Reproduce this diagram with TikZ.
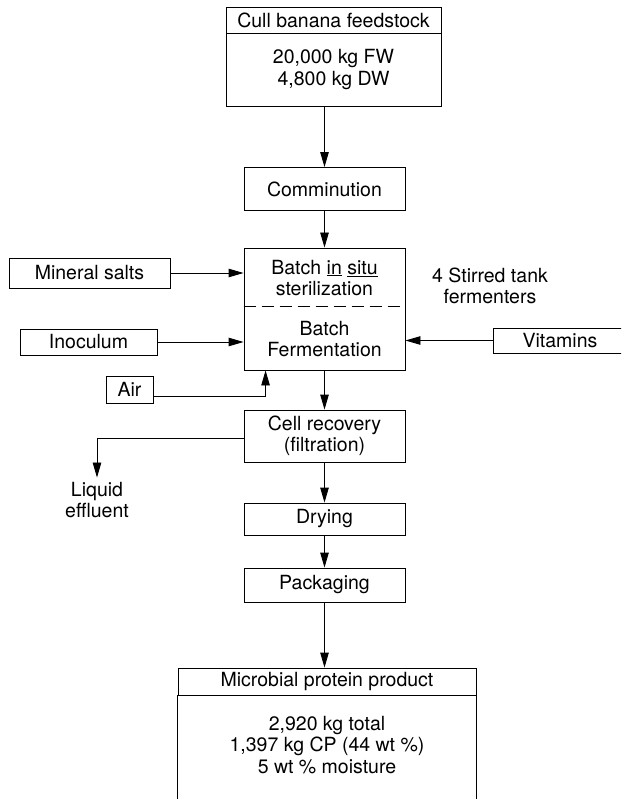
\documentclass[tikz,border=0pt]{standalone}
\usepackage{fontspec}
\setmainfont{TeX Gyre Heros}
\usetikzlibrary{arrows.meta, positioning, calc}

\begin{document}
\begin{tikzpicture}[x=1pt, y=-1pt, line width=0.9pt,
    >={Triangle[length=15pt,width=8.5pt]},
    box/.style={draw, rectangle, inner sep=0pt, align=center, font=\fontsize{19.5}{21.5}\selectfont},
    txt/.style={inner sep=0pt, align=center, font=\fontsize{19.5}{21.5}\selectfont}]

    \clip (0,0) rectangle (621,799);

    % ================= main column =================
    \node[box, minimum width=215pt, minimum height=26pt] (feedhead) at (333.5, 20.5) {Cull banana feedstock};
    \node[box, minimum width=215pt, minimum height=73pt] (feedbody) at (333.5, 69.5) {20,000 kg FW\\4,800 kg DW};

    \node[box, minimum width=161pt, minimum height=43pt] (comm) at (324.5, 189) {Comminution};

    \node[box, minimum width=161pt, minimum height=122pt] (batch) at (324.5, 309) {};
    \node[txt] (steril) at (324.5, 278) {Batch \underline{in} \underline{situ}\\sterilization};
    \node[txt] (ferment) at (324.5, 339) {Batch\\Fermentation};
    \draw[dash pattern=on 12pt off 6pt] ($(batch.north west)+(0,59)$) -- ($(batch.north east)+(0,59)$);

    \node[box, minimum width=161pt, minimum height=52pt] (cell) at (324.5, 436) {Cell recovery\\(filtration)};
    \node[box, minimum width=161pt, minimum height=32pt] (dry) at (324.5, 519) {Drying};
    \node[box, minimum width=161pt, minimum height=34pt] (pack) at (324.5, 585) {Packaging};

    \node[box, minimum width=298pt, minimum height=27pt] (prodhead) at (327, 681.5) {Microbial protein product};
    \node[txt] (prodbody) at (327, 745) {2,920 kg total\\1,397 kg CP (44 wt \%)\\5 wt \% moisture};

    % ================= side inputs and outputs =================
    \node[box, minimum width=161pt, minimum height=30pt] (salts) at (89.5, 273) {Mineral salts};
    \node[box, minimum width=137pt, minimum height=26pt] (inoc) at (88.5, 342) {Inoculum};
    \node[box, minimum width=47pt, minimum height=27pt] (air) at (129.5, 389.5) {Air};
    \node[box, minimum width=134pt, minimum height=25pt] (vit) at (560, 340.5) {Vitamins};

    \node[txt] (stirred) at (490, 286) {4 Stirred tank\\fermenters};
    \node[txt] (effl) at (97, 500) {Liquid\\effluent};

    % ================= connections =================
    \draw[->] (comm.north |- feedbody.south) -- (comm.north);
    \draw[->] (comm.south) -- (batch.north);
    \draw[->] (batch.south) -- (cell.north);
    \draw[->] (cell.south) -- (dry.north);
    \draw[->] (dry.south) -- (pack.north);
    \draw[->] (pack.south) -- (pack.south |- prodhead.north);

    % open sides of the product box
    \draw (prodhead.south west) -- ++(0, 120);
    \draw (prodhead.south east) -- ++(0, 120);

    \draw[->] (salts.east) -- (salts.east -| batch.west);
    \draw[->] (inoc.east) -- (inoc.east -| batch.west);
    \draw[->] (vit.west) -- (vit.west -| batch.east);
    \draw[->] ([yshift=-6.5pt]air.east) -| ([xshift=22pt]batch.south west);
    \draw[->] ([yshift=-2pt]cell.west) -| ([yshift=4pt]effl.north);

\end{tikzpicture}
\end{document}
